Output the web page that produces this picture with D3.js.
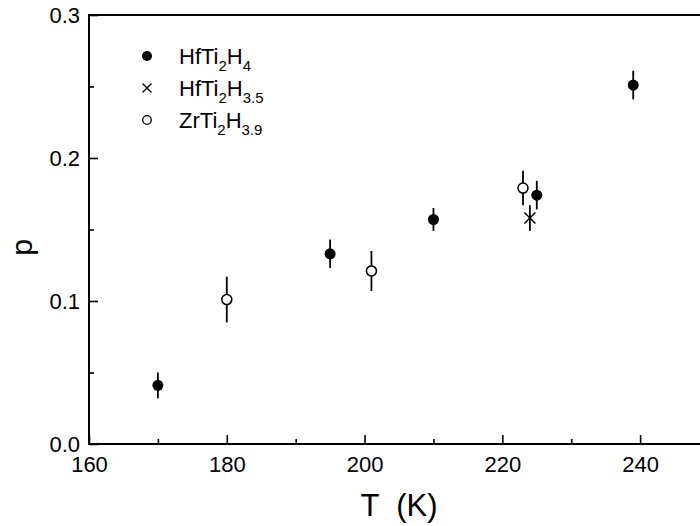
<!DOCTYPE html>
<html>
<head>
<meta charset="utf-8">
<script src="https://cdn.jsdelivr.net/npm/d3@7"></script>
<style>
  body { margin: 0; background: #fff; }
  svg { display: block; font-family: "Liberation Sans", Arial, sans-serif; }
</style>
</head>
<body>
<svg id="chart"></svg>
<script>
// data: [T (K), p, error]
const hfH4 = [
  [170, 0.041, 0.009],
  [195, 0.133, 0.010],
  [210, 0.157, 0.008],
  [225, 0.174, 0.010],
  [239, 0.251, 0.010],
];
const hfH35 = [
  [224, 0.158, 0.009],
];
const zrH39 = [
  [180, 0.101, 0.016],
  [201, 0.121, 0.014],
  [223, 0.179, 0.012],
];

const xMajor = [160, 180, 200, 220, 240];
const xMinor = [170, 190, 210, 230];
const yMajor = [0.0, 0.1, 0.2, 0.3];
const yMinor = [0.05, 0.15, 0.25];

const WIDTH = 700;
const HEIGHT = 526;
const MARGINS = { left: 89, top: 15, bottom: 82, right: -9 };

const svg = d3.select("#chart").attr("width", WIDTH).attr("height", HEIGHT);

const x = d3
  .scaleLinear()
  .domain([160, 250])
  .range([MARGINS.left, WIDTH - MARGINS.right]);

const y = d3
  .scaleLinear()
  .domain([0, 0.3])
  .range([HEIGHT - MARGINS.bottom, MARGINS.top]);

// frame (right side falls outside the picture)
svg
  .append("path")
  .attr(
    "d",
    `M${x(160)},${y(0)}V${y(0.3)}H${x(250)}V${y(0)}Z`
  )
  .attr("fill", "none")
  .attr("stroke", "#000")
  .attr("stroke-width", 2);

svg
  .append("g")
  .attr("transform", `translate(0, ${y(0)})`)
  .call(
    d3
      .axisBottom(x)
      .tickValues(xMajor)
      .tickSizeInner(-9)
      .tickSizeOuter(0)
      .tickPadding(12)
      .tickFormat(d3.format("d"))
  );

svg
  .append("g")
  .attr("transform", `translate(0, ${y(0)})`)
  .call(
    d3.axisBottom(x).tickValues(xMinor).tickSizeInner(-5).tickSizeOuter(0).tickFormat("")
  );

svg
  .append("g")
  .attr("transform", `translate(${x(160)}, 0)`)
  .call(
    d3
      .axisLeft(y)
      .tickValues(yMajor)
      .tickSizeInner(-9)
      .tickSizeOuter(0)
      .tickPadding(9)
      .tickFormat(d3.format(".1f"))
  );

svg
  .append("g")
  .attr("transform", `translate(${x(160)}, 0)`)
  .call(
    d3.axisLeft(y).tickValues(yMinor).tickSizeInner(-5).tickSizeOuter(0).tickFormat("")
  );

svg.selectAll(".domain").remove();
svg.selectAll(".tick line").attr("stroke", "#000").attr("stroke-width", 1.6);
svg
  .selectAll(".tick text")
  .attr("font-size", 22)
  .attr("font-family", "'Liberation Sans', Arial, sans-serif")
  .attr("fill", "#000");

// axis titles
svg
  .append("text")
  .attr("x", (x(160) + x(250)) / 2)
  .attr("y", 516)
  .attr("text-anchor", "middle")
  .attr("font-size", 31)
  .attr("xml:space", "preserve")
  .text("T  (K)");

svg
  .append("text")
  .attr("transform", `translate(32, ${(y(0) + y(0.3)) / 2 + 18}) rotate(-90)`)
  .attr("text-anchor", "middle")
  .attr("font-size", 30)
  .text("p");

// error bars
const allSeries = [hfH4, hfH35, zrH39];
allSeries.forEach((series) => {
  svg
    .append("g")
    .selectAll("line")
    .data(series)
    .join("line")
    .attr("x1", (d) => x(d[0]))
    .attr("x2", (d) => x(d[0]))
    .attr("y1", (d) => y(d[1] - d[2]))
    .attr("y2", (d) => y(d[1] + d[2]))
    .attr("stroke", "#000")
    .attr("stroke-width", 1.8);
});

// markers
svg
  .append("g")
  .selectAll("circle")
  .data(hfH4)
  .join("circle")
  .attr("cx", (d) => x(d[0]))
  .attr("cy", (d) => y(d[1]))
  .attr("r", 5.5)
  .attr("fill", "#000");

svg
  .append("g")
  .selectAll("circle")
  .data(zrH39)
  .join("circle")
  .attr("cx", (d) => x(d[0]))
  .attr("cy", (d) => y(d[1]))
  .attr("r", 5)
  .attr("fill", "#fff")
  .attr("stroke", "#000")
  .attr("stroke-width", 1.6);

const cross = (s) => `M${-s},${-s}L${s},${s}M${-s},${s}L${s},${-s}`;

svg
  .append("g")
  .selectAll("path")
  .data(hfH35)
  .join("path")
  .attr("transform", (d) => `translate(${x(d[0])}, ${y(d[1])})`)
  .attr("d", cross(5.5))
  .attr("fill", "none")
  .attr("stroke", "#000")
  .attr("stroke-width", 1.5);

// legend
const legendItems = [
  { kind: "dot", parts: [["HfTi", 0], ["2", 1], ["H", 0], ["4", 1]] },
  { kind: "cross", parts: [["HfTi", 0], ["2", 1], ["H", 0], ["3.5", 1]] },
  { kind: "ring", parts: [["ZrTi", 0], ["2", 1], ["H", 0], ["3.9", 1]] },
];

const legend = svg.append("g").attr("transform", "translate(147, 56)");

legendItems.forEach((item, i) => {
  const g = legend.append("g").attr("transform", `translate(0, ${i * 32})`);
  if (item.kind === "dot") {
    g.append("circle").attr("r", 5).attr("fill", "#000");
  } else if (item.kind === "ring") {
    g.append("circle")
      .attr("r", 4.3)
      .attr("fill", "#fff")
      .attr("stroke", "#000")
      .attr("stroke-width", 1.3);
  } else {
    g.append("path")
      .attr("d", cross(4.5))
      .attr("stroke", "#000")
      .attr("stroke-width", 1.3);
  }
  const t = g
    .append("text")
    .attr("x", 32)
    .attr("y", 8)
    .attr("font-size", 22);
  let low = false;
  item.parts.forEach(([s, sub]) => {
    const ts = t.append("tspan").text(s);
    if (sub && !low) {
      ts.attr("dy", 7).attr("font-size", 15);
      low = true;
    } else if (!sub && low) {
      ts.attr("dy", -7);
      low = false;
    }
  });
});
</script>
</body>
</html>
